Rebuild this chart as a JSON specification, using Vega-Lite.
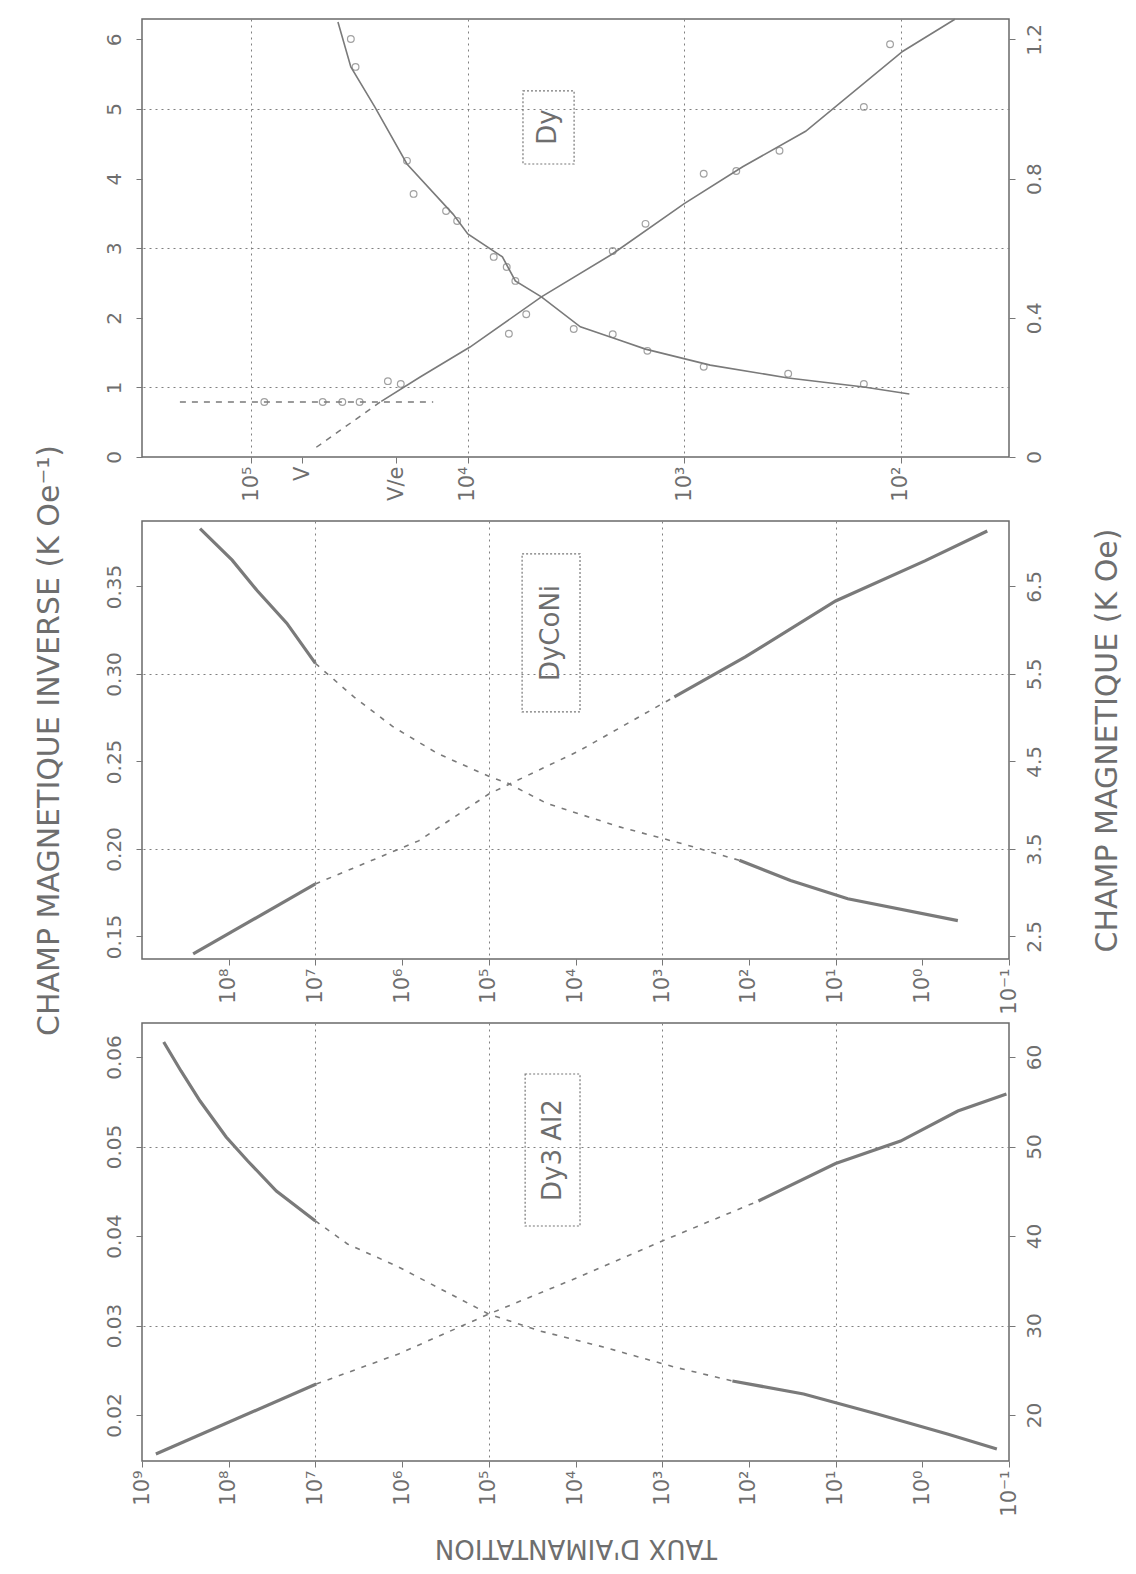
{
  "$schema": "https://vega.github.io/schema/vega-lite/v6.json",
  "background": "white",
  "autosize": {"type": "pad"},
  "padding": {"left": 33, "top": 15, "right": 5, "bottom": 5},
  "spacing": 64,
  "bounds": "flush",
  "config": {
    "font": "DejaVu Sans",
    "view": {"stroke": "#6a6a6a", "strokeWidth": 1.5},
    "axis": {
      "domain": false,
      "labelFont": "DejaVu Sans",
      "titleFont": "DejaVu Sans",
      "labelFontSize": 20,
      "labelColor": "#6e6e6e",
      "titleColor": "#6e6e6e",
      "titleFontWeight": "normal",
      "tickColor": "#777777",
      "tickSize": 6,
      "gridColor": "#808080",
      "gridDash": [2, 4],
      "gridWidth": 1
    }
  },
  "datasets": {
    "curves": [
      {"p": "Dy", "ax": "inv", "part": "sparse", "rate": 50100, "value": 0.14},
      {"p": "Dy", "ax": "inv", "part": "sparse", "rate": 25100, "value": 0.80},
      {"p": "Dy", "ax": "inv", "part": "sparse2", "rate": 213800, "value": 0.79},
      {"p": "Dy", "ax": "inv", "part": "sparse2", "rate": 14450, "value": 0.79},
      {"p": "Dy", "ax": "inv", "part": "solid", "rate": 25100, "value": 0.80},
      {"p": "Dy", "ax": "inv", "part": "solid", "rate": 16600, "value": 1.15},
      {"p": "Dy", "ax": "inv", "part": "solid", "rate": 9770, "value": 1.58},
      {"p": "Dy", "ax": "inv", "part": "solid", "rate": 4570, "value": 2.30},
      {"p": "Dy", "ax": "inv", "part": "solid", "rate": 2140, "value": 2.92},
      {"p": "Dy", "ax": "inv", "part": "solid", "rate": 1000, "value": 3.64},
      {"p": "Dy", "ax": "inv", "part": "solid", "rate": 537, "value": 4.17},
      {"p": "Dy", "ax": "inv", "part": "solid", "rate": 275, "value": 4.68},
      {"p": "Dy", "ax": "inv", "part": "solid", "rate": 97.7, "value": 5.83},
      {"p": "Dy", "ax": "inv", "part": "solid", "rate": 56.2, "value": 6.29},
      {"p": "Dy", "ax": "field", "part": "solid", "rate": 39800, "value": 1.25},
      {"p": "Dy", "ax": "field", "part": "solid", "rate": 34700, "value": 1.121},
      {"p": "Dy", "ax": "field", "part": "solid", "rate": 26900, "value": 1.006},
      {"p": "Dy", "ax": "field", "part": "solid", "rate": 19100, "value": 0.842},
      {"p": "Dy", "ax": "field", "part": "solid", "rate": 11700, "value": 0.698},
      {"p": "Dy", "ax": "field", "part": "solid", "rate": 10000, "value": 0.641},
      {"p": "Dy", "ax": "field", "part": "solid", "rate": 6920, "value": 0.575},
      {"p": "Dy", "ax": "field", "part": "solid", "rate": 6030, "value": 0.506},
      {"p": "Dy", "ax": "field", "part": "solid", "rate": 4570, "value": 0.460},
      {"p": "Dy", "ax": "field", "part": "solid", "rate": 3020, "value": 0.374},
      {"p": "Dy", "ax": "field", "part": "solid", "rate": 2000, "value": 0.336},
      {"p": "Dy", "ax": "field", "part": "solid", "rate": 1510, "value": 0.310},
      {"p": "Dy", "ax": "field", "part": "solid", "rate": 759, "value": 0.264},
      {"p": "Dy", "ax": "field", "part": "solid", "rate": 331, "value": 0.227},
      {"p": "Dy", "ax": "field", "part": "solid", "rate": 148, "value": 0.201},
      {"p": "Dy", "ax": "field", "part": "solid", "rate": 91.2, "value": 0.181},

      {"p": "DyCoNi", "ax": "inv", "part": "dense1", "rate": 257000000, "value": 0.140},
      {"p": "DyCoNi", "ax": "inv", "part": "dense1", "rate": 10000000, "value": 0.180},
      {"p": "DyCoNi", "ax": "inv", "part": "sparse", "rate": 10000000, "value": 0.180},
      {"p": "DyCoNi", "ax": "inv", "part": "sparse", "rate": 645000, "value": 0.2046},
      {"p": "DyCoNi", "ax": "inv", "part": "sparse", "rate": 100000, "value": 0.2314},
      {"p": "DyCoNi", "ax": "inv", "part": "sparse", "rate": 9120, "value": 0.2560},
      {"p": "DyCoNi", "ax": "inv", "part": "sparse", "rate": 724, "value": 0.2869},
      {"p": "DyCoNi", "ax": "inv", "part": "dense2", "rate": 724, "value": 0.2869},
      {"p": "DyCoNi", "ax": "inv", "part": "dense2", "rate": 110, "value": 0.3097},
      {"p": "DyCoNi", "ax": "inv", "part": "dense2", "rate": 10, "value": 0.3417},
      {"p": "DyCoNi", "ax": "inv", "part": "dense2", "rate": 0.933, "value": 0.3646},
      {"p": "DyCoNi", "ax": "inv", "part": "dense2", "rate": 0.178, "value": 0.3817},
      {"p": "DyCoNi", "ax": "field", "part": "dense1", "rate": 214000000, "value": 7.16},
      {"p": "DyCoNi", "ax": "field", "part": "dense1", "rate": 91200000, "value": 6.80},
      {"p": "DyCoNi", "ax": "field", "part": "dense1", "rate": 46800000, "value": 6.45},
      {"p": "DyCoNi", "ax": "field", "part": "dense1", "rate": 21400000, "value": 6.08},
      {"p": "DyCoNi", "ax": "field", "part": "dense1", "rate": 10000000, "value": 5.62},
      {"p": "DyCoNi", "ax": "field", "part": "sparse", "rate": 10000000, "value": 5.62},
      {"p": "DyCoNi", "ax": "field", "part": "sparse", "rate": 3630000, "value": 5.24},
      {"p": "DyCoNi", "ax": "field", "part": "sparse", "rate": 1290000, "value": 4.90},
      {"p": "DyCoNi", "ax": "field", "part": "sparse", "rate": 389000, "value": 4.59},
      {"p": "DyCoNi", "ax": "field", "part": "sparse", "rate": 100000, "value": 4.33},
      {"p": "DyCoNi", "ax": "field", "part": "sparse", "rate": 60300, "value": 4.25},
      {"p": "DyCoNi", "ax": "field", "part": "sparse", "rate": 21400, "value": 4.02},
      {"p": "DyCoNi", "ax": "field", "part": "sparse", "rate": 3310, "value": 3.76},
      {"p": "DyCoNi", "ax": "field", "part": "sparse", "rate": 589, "value": 3.56},
      {"p": "DyCoNi", "ax": "field", "part": "sparse", "rate": 129, "value": 3.37},
      {"p": "DyCoNi", "ax": "field", "part": "dense2", "rate": 129, "value": 3.37},
      {"p": "DyCoNi", "ax": "field", "part": "dense2", "rate": 33.1, "value": 3.14},
      {"p": "DyCoNi", "ax": "field", "part": "dense2", "rate": 7.24, "value": 2.93},
      {"p": "DyCoNi", "ax": "field", "part": "dense2", "rate": 0.389, "value": 2.68},

      {"p": "Dy3Al2", "ax": "inv", "part": "dense1", "rate": 692000000, "value": 0.01564},
      {"p": "Dy3Al2", "ax": "inv", "part": "dense1", "rate": 9770000, "value": 0.02346},
      {"p": "Dy3Al2", "ax": "inv", "part": "sparse", "rate": 9770000, "value": 0.02346},
      {"p": "Dy3Al2", "ax": "inv", "part": "sparse", "rate": 1100000, "value": 0.02682},
      {"p": "Dy3Al2", "ax": "inv", "part": "sparse", "rate": 100000, "value": 0.03128},
      {"p": "Dy3Al2", "ax": "inv", "part": "sparse", "rate": 9120, "value": 0.03542},
      {"p": "Dy3Al2", "ax": "inv", "part": "sparse", "rate": 1000, "value": 0.03944},
      {"p": "Dy3Al2", "ax": "inv", "part": "sparse", "rate": 77.6, "value": 0.04391},
      {"p": "Dy3Al2", "ax": "inv", "part": "dense2", "rate": 77.6, "value": 0.04391},
      {"p": "Dy3Al2", "ax": "inv", "part": "dense2", "rate": 10, "value": 0.0481},
      {"p": "Dy3Al2", "ax": "inv", "part": "dense2", "rate": 1.78, "value": 0.05061},
      {"p": "Dy3Al2", "ax": "inv", "part": "dense2", "rate": 0.389, "value": 0.05397},
      {"p": "Dy3Al2", "ax": "inv", "part": "dense2", "rate": 0.107, "value": 0.05587},
      {"p": "Dy3Al2", "ax": "field", "part": "dense1", "rate": 562000000, "value": 61.68},
      {"p": "Dy3Al2", "ax": "field", "part": "dense1", "rate": 355000000, "value": 58.44},
      {"p": "Dy3Al2", "ax": "field", "part": "dense1", "rate": 214000000, "value": 55.08},
      {"p": "Dy3Al2", "ax": "field", "part": "dense1", "rate": 107000000, "value": 51.06},
      {"p": "Dy3Al2", "ax": "field", "part": "dense1", "rate": 60300000, "value": 48.38},
      {"p": "Dy3Al2", "ax": "field", "part": "dense1", "rate": 28200000, "value": 45.03},
      {"p": "Dy3Al2", "ax": "field", "part": "dense1", "rate": 10000000, "value": 41.68},
      {"p": "Dy3Al2", "ax": "field", "part": "sparse", "rate": 10000000, "value": 41.68},
      {"p": "Dy3Al2", "ax": "field", "part": "sparse", "rate": 4270000, "value": 39.11},
      {"p": "Dy3Al2", "ax": "field", "part": "sparse", "rate": 1100000, "value": 36.54},
      {"p": "Dy3Al2", "ax": "field", "part": "sparse", "rate": 324000, "value": 33.85},
      {"p": "Dy3Al2", "ax": "field", "part": "sparse", "rate": 100000, "value": 31.28},
      {"p": "Dy3Al2", "ax": "field", "part": "sparse", "rate": 25700, "value": 29.39},
      {"p": "Dy3Al2", "ax": "field", "part": "sparse", "rate": 4790, "value": 27.60},
      {"p": "Dy3Al2", "ax": "field", "part": "sparse", "rate": 724, "value": 25.36},
      {"p": "Dy3Al2", "ax": "field", "part": "sparse", "rate": 155, "value": 23.80},
      {"p": "Dy3Al2", "ax": "field", "part": "dense2", "rate": 155, "value": 23.80},
      {"p": "Dy3Al2", "ax": "field", "part": "dense2", "rate": 23.4, "value": 22.35},
      {"p": "Dy3Al2", "ax": "field", "part": "dense2", "rate": 3.31, "value": 20.11},
      {"p": "Dy3Al2", "ax": "field", "part": "dense2", "rate": 0.513, "value": 17.88},
      {"p": "Dy3Al2", "ax": "field", "part": "dense2", "rate": 0.138, "value": 16.20}
    ],
    "markers": [
      {"p": "Dy", "ax": "inv", "rate": 23400, "value": 1.09},
      {"p": "Dy", "ax": "inv", "rate": 20400, "value": 1.05},
      {"p": "Dy", "ax": "inv", "rate": 6460, "value": 1.77},
      {"p": "Dy", "ax": "inv", "rate": 5370, "value": 2.05},
      {"p": "Dy", "ax": "inv", "rate": 2140, "value": 2.96},
      {"p": "Dy", "ax": "inv", "rate": 1510, "value": 3.35},
      {"p": "Dy", "ax": "inv", "rate": 813, "value": 4.07},
      {"p": "Dy", "ax": "inv", "rate": 575, "value": 4.11},
      {"p": "Dy", "ax": "inv", "rate": 363, "value": 4.40},
      {"p": "Dy", "ax": "inv", "rate": 148, "value": 5.03},
      {"p": "Dy", "ax": "inv", "rate": 112, "value": 5.93},
      {"p": "Dy", "ax": "inv", "rate": 87100, "value": 0.79},
      {"p": "Dy", "ax": "inv", "rate": 46800, "value": 0.79},
      {"p": "Dy", "ax": "inv", "rate": 38000, "value": 0.79},
      {"p": "Dy", "ax": "inv", "rate": 31600, "value": 0.79},
      {"p": "Dy", "ax": "field", "rate": 34700, "value": 1.201},
      {"p": "Dy", "ax": "field", "rate": 33000, "value": 1.121},
      {"p": "Dy", "ax": "field", "rate": 19100, "value": 0.851},
      {"p": "Dy", "ax": "field", "rate": 17800, "value": 0.756},
      {"p": "Dy", "ax": "field", "rate": 12600, "value": 0.707},
      {"p": "Dy", "ax": "field", "rate": 11200, "value": 0.678},
      {"p": "Dy", "ax": "field", "rate": 7590, "value": 0.575},
      {"p": "Dy", "ax": "field", "rate": 6610, "value": 0.546},
      {"p": "Dy", "ax": "field", "rate": 6030, "value": 0.506},
      {"p": "Dy", "ax": "field", "rate": 3240, "value": 0.368},
      {"p": "Dy", "ax": "field", "rate": 2140, "value": 0.353},
      {"p": "Dy", "ax": "field", "rate": 1480, "value": 0.305},
      {"p": "Dy", "ax": "field", "rate": 813, "value": 0.259},
      {"p": "Dy", "ax": "field", "rate": 331, "value": 0.239},
      {"p": "Dy", "ax": "field", "rate": 148, "value": 0.210}
    ],
    "boxes": [
      {"p": "Dy", "rate": 5560, "rate2": 3228, "value": 4.21, "value2": 5.26, "name": "Dy", "rc": 4270, "vc": 4.74},
      {"p": "DyCoNi", "rate": 41300, "rate2": 8870, "value": 0.2783, "value2": 0.3686, "name": "DyCoNi", "rc": 19100, "vc": 0.3234},
      {"p": "Dy3Al2", "rate": 38100, "rate2": 8870, "value": 0.04112, "value2": 0.0581, "name": "Dy3 Al2", "rc": 18200, "vc": 0.0496}
    ]
  },
  "vconcat": [
    {
      "width": 867,
      "height": 438,
      "encoding": {
        "x": {
          "field": "rate", "type": "quantitative",
          "scale": {"type": "log", "domain": [31.6, 320000], "reverse": true, "nice": false},
          "axis": {
            "values": [100000, 58100, 21370, 10000, 1000, 100],
            "labelExpr": "datum.value == 58100 ? 'V' : datum.value == 21370 ? 'V/e' : '10' + (datum.value < 1 ? '⁻' : '') + ['⁰','¹','²','³','⁴','⁵','⁶','⁷','⁸','⁹'][abs(round(log(datum.value)/LN10))]",
            "labelAngle": -90, "labelFontSize": 21, "labelPadding": 3, "title": null,
            "grid": true,
            "gridOpacity": {"condition": {"test": "datum.value == 100000 || datum.value == 10000 || datum.value == 1000 || datum.value == 100", "value": 1}, "value": 0}
          }
        }
      },
      "layer": [
        {
          "encoding": {
            "y": {
              "field": "value", "type": "quantitative",
              "scale": {"domain": [0, 6.293], "nice": false, "zero": false},
              "axis": {
                "orient": "left", "values": [0, 1, 2, 3, 4, 5, 6], "format": "d",
                "labelAngle": -90, "labelPadding": 12, "title": null,
                "grid": true,
                "gridOpacity": {"condition": {"test": "datum.value == 1 || datum.value == 3 || datum.value == 5", "value": 1}, "value": 0}
              }
            }
          },
          "layer": [
            {"data": {"name": "curves"}, "transform": [{"filter": "datum.p == 'Dy' && datum.ax == 'inv' && indexof(datum.part, 'sparse') == 0"}],
             "mark": {"type": "line", "color": "#7a7a7a", "strokeWidth": 1.5, "strokeDash": [6, 6]},
             "encoding": {"detail": {"field": "part"}}},
            {"data": {"name": "curves"}, "transform": [{"filter": "datum.p == 'Dy' && datum.ax == 'inv' && datum.part == 'solid'"}],
             "mark": {"type": "line", "color": "#7a7a7a", "strokeWidth": 1.6},
             "encoding": {"detail": {"field": "part"}}},
            {"data": {"name": "markers"}, "transform": [{"filter": "datum.p == 'Dy' && datum.ax == 'inv'"}],
             "mark": {"type": "point", "shape": "circle", "filled": false, "size": 45, "color": "#7a7a7a", "strokeWidth": 1.2}},
            {"data": {"name": "boxes"}, "transform": [{"filter": "datum.p == 'Dy'"}],
             "mark": {"type": "rect", "fill": null, "stroke": "#777777", "strokeDash": [2, 2], "strokeWidth": 1.2},
             "encoding": {"x2": {"field": "rate2"}, "y2": {"field": "value2"}}},
            {"data": {"name": "boxes"}, "transform": [{"filter": "datum.p == 'Dy'"}],
             "mark": {"type": "text", "angle": 270, "fontSize": 26, "color": "#6e6e6e", "font": "DejaVu Sans"},
             "encoding": {"x": {"field": "rc", "type": "quantitative"}, "y": {"field": "vc", "type": "quantitative"}, "text": {"field": "name"}}}
          ]
        },
        {
          "encoding": {
            "y": {
              "field": "value", "type": "quantitative",
              "scale": {"domain": [0, 1.2586], "nice": false, "zero": false},
              "axis": {
                "orient": "right", "values": [0, 0.4, 0.8, 1.2],
                "labelExpr": "datum.value == 0 ? '0' : format(datum.value, '.1f')",
                "labelAngle": -90, "labelPadding": 9, "title": null, "grid": false
              }
            }
          },
          "layer": [
            {"data": {"name": "curves"}, "transform": [{"filter": "datum.p == 'Dy' && datum.ax == 'field'"}],
             "mark": {"type": "line", "color": "#7a7a7a", "strokeWidth": 1.6}},
            {"data": {"name": "markers"}, "transform": [{"filter": "datum.p == 'Dy' && datum.ax == 'field'"}],
             "mark": {"type": "point", "shape": "circle", "filled": false, "size": 45, "color": "#7a7a7a", "strokeWidth": 1.2}}
          ]
        }
      ],
      "resolve": {"scale": {"y": "independent"}}
    },
    {
      "width": 867,
      "height": 438,
      "encoding": {
        "x": {
          "field": "rate", "type": "quantitative",
          "scale": {"type": "log", "domain": [0.1, 1000000000], "reverse": true, "nice": false},
          "axis": {
            "values": [100000000, 10000000, 1000000, 100000, 10000, 1000, 100, 10, 1, 0.1],
            "labelExpr": "'10' + (datum.value < 1 ? '⁻' : '') + ['⁰','¹','²','³','⁴','⁵','⁶','⁷','⁸','⁹'][abs(round(log(datum.value)/LN10))]",
            "labelAngle": -90, "labelFontSize": 21, "labelPadding": 3, "title": null,
            "grid": true,
            "gridOpacity": {"condition": {"test": "datum.value == 10000000 || datum.value == 100000 || datum.value == 1000 || datum.value == 10", "value": 1}, "value": 0}
          }
        }
      },
      "layer": [
        {
          "encoding": {
            "y": {
              "field": "value", "type": "quantitative",
              "scale": {"domain": [0.1371, 0.3874], "nice": false, "zero": false},
              "axis": {
                "orient": "left", "values": [0.15, 0.2, 0.25, 0.3, 0.35], "format": ".2f",
                "labelAngle": -90, "labelPadding": 12,
                "title": "CHAMP MAGNETIQUE INVERSE (K Oe⁻¹)", "titleFontSize": 30, "titlePadding": 40,
                "grid": true,
                "gridOpacity": {"condition": {"test": "datum.value == 0.2 || datum.value == 0.3", "value": 1}, "value": 0}
              }
            }
          },
          "layer": [
            {"data": {"name": "curves"}, "transform": [{"filter": "datum.p == 'DyCoNi' && datum.ax == 'inv' && datum.part == 'sparse'"}],
             "mark": {"type": "line", "color": "#7a7a7a", "strokeWidth": 1.6, "strokeDash": [5, 7]}},
            {"data": {"name": "curves"}, "transform": [{"filter": "datum.p == 'DyCoNi' && datum.ax == 'inv' && indexof(datum.part, 'dense') == 0"}],
             "mark": {"type": "line", "color": "#7a7a7a", "strokeWidth": 3.2},
             "encoding": {"detail": {"field": "part"}}},
            {"data": {"name": "boxes"}, "transform": [{"filter": "datum.p == 'DyCoNi'"}],
             "mark": {"type": "rect", "fill": null, "stroke": "#777777", "strokeDash": [2, 2], "strokeWidth": 1.2},
             "encoding": {"x2": {"field": "rate2"}, "y2": {"field": "value2"}}},
            {"data": {"name": "boxes"}, "transform": [{"filter": "datum.p == 'DyCoNi'"}],
             "mark": {"type": "text", "angle": 270, "fontSize": 26, "color": "#6e6e6e", "font": "DejaVu Sans"},
             "encoding": {"x": {"field": "rc", "type": "quantitative"}, "y": {"field": "vc", "type": "quantitative"}, "text": {"field": "name"}}}
          ]
        },
        {
          "encoding": {
            "y": {
              "field": "value", "type": "quantitative",
              "scale": {"domain": [2.242, 7.248], "nice": false, "zero": false},
              "axis": {
                "orient": "right", "values": [2.5, 3.5, 4.5, 5.5, 6.5], "format": ".1f",
                "labelAngle": -90, "labelPadding": 9,
                "title": "CHAMP MAGNETIQUE (K Oe)", "titleFontSize": 30, "titleAngle": 270, "titlePadding": 78,
                "grid": false
              }
            }
          },
          "layer": [
            {"data": {"name": "curves"}, "transform": [{"filter": "datum.p == 'DyCoNi' && datum.ax == 'field' && datum.part == 'sparse'"}],
             "mark": {"type": "line", "color": "#7a7a7a", "strokeWidth": 1.6, "strokeDash": [5, 7]}},
            {"data": {"name": "curves"}, "transform": [{"filter": "datum.p == 'DyCoNi' && datum.ax == 'field' && indexof(datum.part, 'dense') == 0"}],
             "mark": {"type": "line", "color": "#7a7a7a", "strokeWidth": 3.2},
             "encoding": {"detail": {"field": "part"}}}
          ]
        }
      ],
      "resolve": {"scale": {"y": "independent"}}
    },
    {
      "width": 867,
      "height": 438,
      "encoding": {
        "x": {
          "field": "rate", "type": "quantitative",
          "scale": {"type": "log", "domain": [0.1, 1000000000], "reverse": true, "nice": false},
          "axis": {
            "values": [1000000000, 100000000, 10000000, 1000000, 100000, 10000, 1000, 100, 10, 1, 0.1],
            "labelExpr": "'10' + (datum.value < 1 ? '⁻' : '') + ['⁰','¹','²','³','⁴','⁵','⁶','⁷','⁸','⁹'][abs(round(log(datum.value)/LN10))]",
            "labelAngle": -90, "labelFontSize": 21, "labelPadding": 3,
            "title": "TAUX D'AIMANTATION", "titleAngle": 180, "titleFontSize": 26, "titlePadding": 44,
            "grid": true,
            "gridOpacity": {"condition": {"test": "datum.value == 10000000 || datum.value == 100000 || datum.value == 1000 || datum.value == 10", "value": 1}, "value": 0}
          }
        }
      },
      "layer": [
        {
          "encoding": {
            "y": {
              "field": "value", "type": "quantitative",
              "scale": {"domain": [0.01486, 0.0638], "nice": false, "zero": false},
              "axis": {
                "orient": "left", "values": [0.02, 0.03, 0.04, 0.05, 0.06], "format": ".2f",
                "labelAngle": -90, "labelPadding": 12, "title": null,
                "grid": true,
                "gridOpacity": {"condition": {"test": "datum.value == 0.03 || datum.value == 0.05", "value": 1}, "value": 0}
              }
            }
          },
          "layer": [
            {"data": {"name": "curves"}, "transform": [{"filter": "datum.p == 'Dy3Al2' && datum.ax == 'inv' && datum.part == 'sparse'"}],
             "mark": {"type": "line", "color": "#7a7a7a", "strokeWidth": 1.6, "strokeDash": [5, 7]}},
            {"data": {"name": "curves"}, "transform": [{"filter": "datum.p == 'Dy3Al2' && datum.ax == 'inv' && indexof(datum.part, 'dense') == 0"}],
             "mark": {"type": "line", "color": "#7a7a7a", "strokeWidth": 3.2},
             "encoding": {"detail": {"field": "part"}}},
            {"data": {"name": "boxes"}, "transform": [{"filter": "datum.p == 'Dy3Al2'"}],
             "mark": {"type": "rect", "fill": null, "stroke": "#777777", "strokeDash": [2, 2], "strokeWidth": 1.2},
             "encoding": {"x2": {"field": "rate2"}, "y2": {"field": "value2"}}},
            {"data": {"name": "boxes"}, "transform": [{"filter": "datum.p == 'Dy3Al2'"}],
             "mark": {"type": "text", "angle": 270, "fontSize": 26, "color": "#6e6e6e", "font": "DejaVu Sans"},
             "encoding": {"x": {"field": "rc", "type": "quantitative"}, "y": {"field": "vc", "type": "quantitative"}, "text": {"field": "name"}}}
          ]
        },
        {
          "encoding": {
            "y": {
              "field": "value", "type": "quantitative",
              "scale": {"domain": [14.86, 63.8], "nice": false, "zero": false},
              "axis": {
                "orient": "right", "values": [20, 30, 40, 50, 60], "format": "d",
                "labelAngle": -90, "labelPadding": 9, "title": null, "grid": false
              }
            }
          },
          "layer": [
            {"data": {"name": "curves"}, "transform": [{"filter": "datum.p == 'Dy3Al2' && datum.ax == 'field' && datum.part == 'sparse'"}],
             "mark": {"type": "line", "color": "#7a7a7a", "strokeWidth": 1.6, "strokeDash": [5, 7]}},
            {"data": {"name": "curves"}, "transform": [{"filter": "datum.p == 'Dy3Al2' && datum.ax == 'field' && indexof(datum.part, 'dense') == 0"}],
             "mark": {"type": "line", "color": "#7a7a7a", "strokeWidth": 3.2},
             "encoding": {"detail": {"field": "part"}}}
          ]
        }
      ],
      "resolve": {"scale": {"y": "independent"}}
    }
  ]
}
